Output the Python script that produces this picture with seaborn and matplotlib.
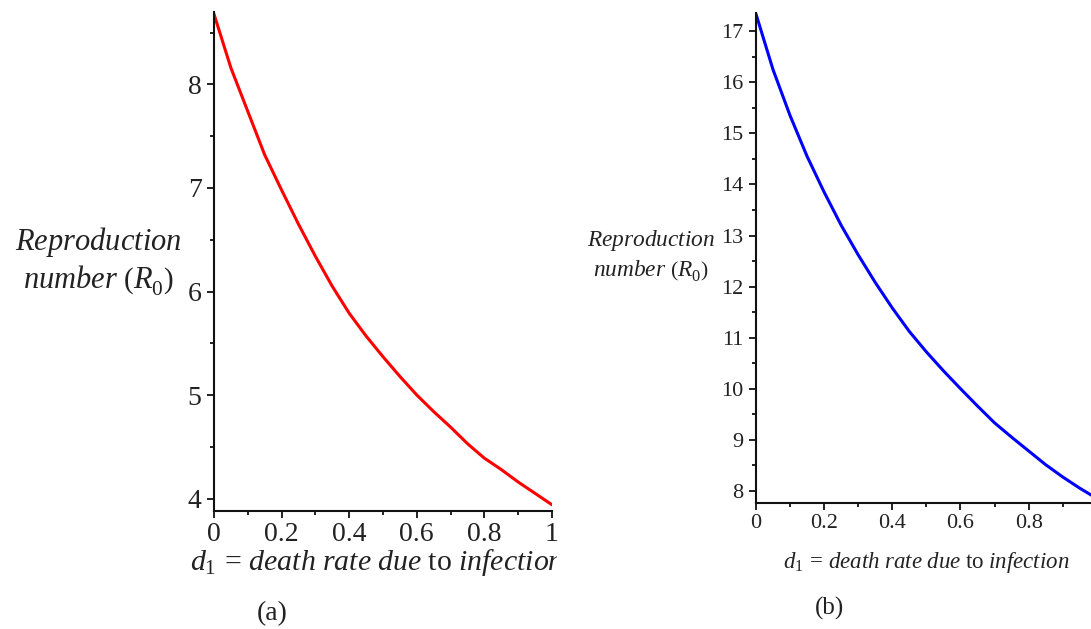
import numpy as np
import pandas as pd
import matplotlib
matplotlib.use("Agg")
import matplotlib.pyplot as plt
import seaborn as sns
from matplotlib.ticker import MultipleLocator
from matplotlib.transforms import Bbox

# ---------------- data ----------------
d1 = [0.00, 0.05, 0.10, 0.15, 0.20, 0.25, 0.30, 0.35, 0.40, 0.45, 0.50,
      0.55, 0.60, 0.65, 0.70, 0.75, 0.80, 0.85, 0.90, 0.95, 1.00]
r0_a = [8.68, 8.16, 7.74, 7.32, 6.98, 6.65, 6.34, 6.05, 5.79, 5.57, 5.37,
        5.18, 5.00, 4.84, 4.69, 4.53, 4.39, 4.28, 4.16, 4.05, 3.94]
r0_b = [17.34, 16.25, 15.35, 14.55, 13.85, 13.20, 12.62, 12.08, 11.58, 11.12, 10.72,
        10.35, 10.00, 9.66, 9.33, 9.05, 8.78, 8.51, 8.27, 8.05, 7.85]
x_label = r"$d_1\,=\,death\ rate\ due\ \mathrm{to}\ infection$"
y_label = r"$Reproduction$" + "\n" + r"$number\ \left(R_0^{\ }\right)$"
panel_tags = ["(a)", "(b)"]

df = pd.DataFrame({"d1": d1, "a": r0_a, "b": r0_b})

sns.set_theme(style="ticks")
plt.rcParams["font.family"] = ["Liberation Serif", "DejaVu Serif"]
plt.rcParams["mathtext.fontset"] = "custom"
plt.rcParams["mathtext.rm"] = "Liberation Serif"
plt.rcParams["mathtext.it"] = "Liberation Serif:italic"
plt.rcParams["mathtext.bf"] = "Liberation Serif:bold"

W, H = 1091, 629
fig = plt.figure(figsize=(W / 100, H / 100), dpi=100)
fig.patch.set_facecolor("white")

def px_axes(x0, x1, ytop, ybot):
    return fig.add_axes([x0 / W, 1 - ybot / H, (x1 - x0) / W, (ybot - ytop) / H])

ax1 = px_axes(214, 552, 12, 511)
ax2 = px_axes(756, 1091, 13, 503)

sns.lineplot(data=df, x="d1", y="a", ax=ax1, color="#ff0000", linewidth=2.2)
sns.lineplot(data=df, x="d1", y="b", ax=ax2, color="#0000ff", linewidth=2.2)

ax1.set_xlim(0, 1.0)
ax1.set_ylim(3.88, 8.70)
ax2.set_xlim(0, 0.983)
ax2.set_ylim(7.76, 17.36)

for ax, tsize in ((ax1, 20), (ax2, 16)):
    ax.set_facecolor("white")
    for s in ("top", "right"):
        ax.spines[s].set_visible(False)
    for s in ("left", "bottom"):
        ax.spines[s].set_linewidth(1.5)
        ax.spines[s].set_color("#111111")
    ax.xaxis.set_major_locator(MultipleLocator(0.2))
    ax.xaxis.set_minor_locator(MultipleLocator(0.1))
    ax.yaxis.set_major_locator(MultipleLocator(1))
    ax.yaxis.set_minor_locator(MultipleLocator(0.5))
    ax.tick_params(which="major", direction="out", length=5, width=1.3,
                   color="#111111", labelsize=tsize, labelcolor="#222222", pad=4)
    ax.tick_params(which="minor", direction="out", length=3, width=1.3, color="#111111")
    ax.tick_params(axis="x", which="major", pad=3)
    ax.xaxis.set_major_formatter(matplotlib.ticker.FuncFormatter(
        lambda v, p: "0" if abs(v) < 1e-9 else ("1" if abs(v - 1) < 1e-9 else f"{v:.1f}")))

# axis labels
ax1.set_xlabel(x_label, fontsize=21.5, ha="left", va="center", color="#222222")
ax1.xaxis.set_label_coords(-0.071, -0.104)
ax2.set_xlabel(x_label, fontsize=16.5, ha="left", va="center", color="#222222")
ax2.xaxis.set_label_coords(0.08, -0.122)

ax1.set_ylabel(y_label, fontsize=22, rotation=0, ha="right", va="center",
               multialignment="center", linespacing=1.2, color="#222222")
ax1.yaxis.set_label_coords(-0.095, 0.50)
ax2.set_ylabel(y_label, fontsize=16.8, rotation=0, ha="right", va="center",
               multialignment="center", linespacing=1.35, color="#222222")
ax2.yaxis.set_label_coords(-0.122, 0.504)

# clip the left x label like the reference crop
clip = Bbox.from_extents(0, 0, 557, H)
ax1.xaxis.label.set_clip_box(clip)
ax1.xaxis.label.set_clip_on(True)

fig.text(272 / W, 1 - 614 / H, panel_tags[0], fontsize=20, ha="center", va="center", color="#222222")
fig.text(830 / W, 1 - 608 / H, panel_tags[1], fontsize=18, ha="center", va="center", color="#222222")

fig.savefig("out.png", dpi=100, facecolor="white")
